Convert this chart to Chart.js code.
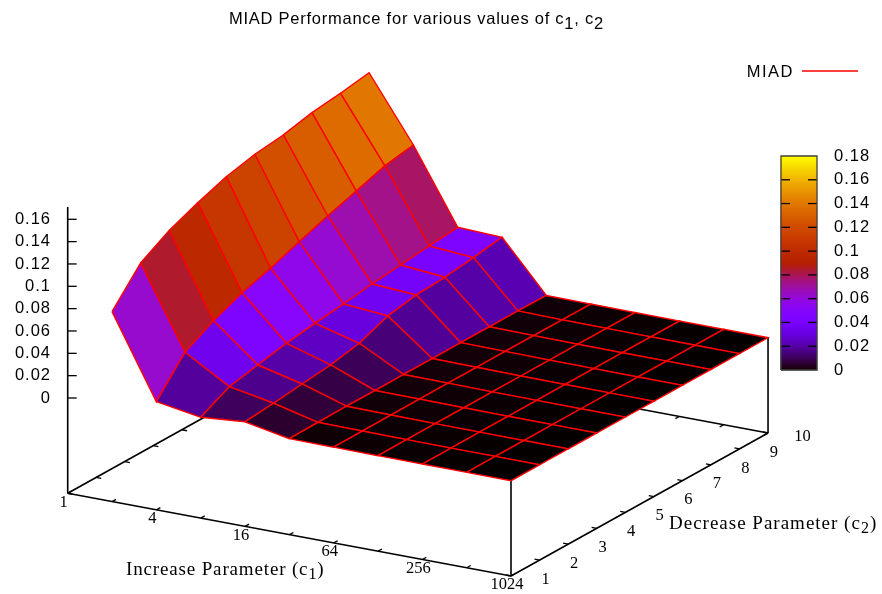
<!DOCTYPE html>
<html>
<head>
<meta charset="utf-8">
<title>MIAD Performance</title>
<script src="https://cdn.jsdelivr.net/npm/chart.js@4"></script>
<style>
html, body { margin: 0; padding: 0; background: #fff; }
canvas { display: block; filter: blur(0.45px); }
</style>
</head>
<body>
<canvas id="canvas" width="882" height="594"></canvas>
<script>
var increaseParam = [2, 4, 8, 16, 32, 64, 128, 256, 512, 1024];
var decreaseParam = [1, 2, 3, 4, 5, 6, 7, 8, 9, 10];

/* MIAD values, one row per c1, one column per c2 */
var perfC1_2 = [0.0847, 0.114, 0.129, 0.1396, 0.1486, 0.1545, 0.1576, 0.1633, 0.1664, 0.1706];
var perfC1_4 = [0.0115, 0.0415, 0.0555, 0.0664, 0.074, 0.0836, 0.0924, 0.1005, 0.1088, 0.1133];
var perfC1_8 = [0.005, 0.0181, 0.0233, 0.0285, 0.0321, 0.0352, 0.0389, 0.0417, 0.0445, 0.047];
var perfC1_16 = [0.0083, 0.0107, 0.0137, 0.0165, 0.0217, 0.032, 0.0365, 0.0381, 0.0415, 0.0455];
var perfC1_32 = [0.0006, 0.001, 0.0012, 0.001, 0.0012, 0.0012, 0.0012, 0.0012, 0.0012, 0.0008];
var perfC1_64 = [0.0004, 0.0006, 0.0007, 0.0008, 0.0008, 0.0008, 0.0008, 0.0007, 0.0006, 0.0005];
var perfC1_128 = [0.0002, 0.0003, 0.0004, 0.0004, 0.0004, 0.0004, 0.0004, 0.0004, 0.0003, 0.0003];
var perfC1_256 = [0.0001, 0.0001, 0.0002, 0.0002, 0.0002, 0.0002, 0.0002, 0.0002, 0.0002, 0.0001];
var perfC1_512 = [0.0001, 0.0001, 0.0001, 0.0001, 0.0001, 0.0001, 0.0001, 0.0001, 0.0001, 0.0001];
var perfC1_1024 = [0, 0, 0, 0, 0, 0, 0, 0, 0, 0];
var perfRows = [perfC1_2, perfC1_4, perfC1_8, perfC1_16, perfC1_32, perfC1_64, perfC1_128, perfC1_256, perfC1_512, perfC1_1024];

var c1TickLabels = ["1", "4", "16", "64", "256", "1024"];
var c1TickValues = [1, 4, 16, 64, 256, 1024];
var c1MinorTicks = [1, 2, 4, 8, 16, 32, 64, 128, 256, 512, 1024];
var c2TickValues = [1, 2, 3, 4, 5, 6, 7, 8, 9, 10];
var zTicks = [0, 0.02, 0.04, 0.06, 0.08, 0.1, 0.12, 0.14, 0.16];
var zTickLabels = ["0", "0.02", "0.04", "0.06", "0.08", "0.1", "0.12", "0.14", "0.16"];
var cbTicks = [0, 0.02, 0.04, 0.06, 0.08, 0.1, 0.12, 0.14, 0.16, 0.18];
var cbTickLabels = ["0", "0.02", "0.04", "0.06", "0.08", "0.1", "0.12", "0.14", "0.16", "0.18"];

var zMax = 0.18;

/* view of the 3d box, in pixels of the hidden x/y scales */
function project(c1, c2, z) {
    var c = Math.log2(c1);
    var j = c2 - 1;
    return {
        x: 67.7 + 44.33 * c + 28.56 * j,
        y: 398 + 8.27 * c - 15.89 * j - 1117 * z
    };
}

function floorPoint(c1, c2) {
    var p = project(c1, c2, 0);
    p.y += 95.3;
    return p;
}

/* gnuplot default pm3d palette (rgbformulae 7,5,15) */
function palette(v) {
    var g = Math.max(0, Math.min(1, v / zMax));
    var r = Math.sqrt(g);
    var gr = g * g * g;
    var b = Math.max(0, Math.sin(2 * Math.PI * g));
    return "rgb(" + Math.round(r * 255) + "," + Math.round(gr * 255) + "," + Math.round(b * 255) + ")";
}

var datasets = [];

function addLine(a, b, color, width) {
    datasets.push({
        data: [a, b],
        borderColor: color,
        borderWidth: width,
        pointRadius: 0,
        fill: false,
        tension: 0
    });
}

function addPoly(pts, fillColor, lineColor, width) {
    datasets.push({
        data: pts,
        backgroundColor: fillColor,
        borderColor: lineColor,
        borderWidth: width,
        pointRadius: 0,
        fill: "shape",
        tension: 0
    });
}

/* box floor and verticals */
addLine(floorPoint(1, 1), floorPoint(1024, 1), "#000", 1.6);
addLine(floorPoint(1024, 1), floorPoint(1024, 10), "#000", 1.6);
addLine(floorPoint(1, 1), floorPoint(1, 10), "#000", 1.6);
addLine(floorPoint(1, 10), floorPoint(1024, 10), "#000", 1.6);
addLine(floorPoint(1024, 1), project(1024, 1, 0), "#000", 1.6);
addLine(floorPoint(1024, 10), project(1024, 10, 0), "#000", 1.6);
addLine(floorPoint(1, 1), { x: floorPoint(1, 1).x, y: 207 }, "#000", 1.6);

for (var i = 0; i < zTicks.length; i++) {
    var t = project(1, 1, zTicks[i]);
    addLine(t, { x: t.x + 9, y: t.y }, "#000", 1.3);
}

for (var i = 0; i < c1MinorTicks.length; i++) {
    var p = floorPoint(c1MinorTicks[i], 1);
    addLine(p, { x: p.x + 4, y: p.y - 2.2 }, "#000", 1.3);
    var q = floorPoint(c1MinorTicks[i], 10);
    addLine(q, { x: q.x - 4, y: q.y + 2.2 }, "#000", 1.3);
}
for (var i = 0; i < c2TickValues.length; i++) {
    var p = floorPoint(1, c2TickValues[i]);
    addLine(p, { x: p.x + 5, y: p.y + 1 }, "#000", 1.3);
    var q = floorPoint(1024, c2TickValues[i]);
    addLine(q, { x: q.x - 5, y: q.y - 1 }, "#000", 1.3);
}

/* surface cells, far ones first */
for (var a = 0; a < increaseParam.length - 1; a++) {
    for (var b = decreaseParam.length - 2; b >= 0; b--) {
        var z1 = perfRows[a][b], z2 = perfRows[a + 1][b], z3 = perfRows[a + 1][b + 1], z4 = perfRows[a][b + 1];
        var pts = [
            project(increaseParam[a], decreaseParam[b], z1),
            project(increaseParam[a + 1], decreaseParam[b], z2),
            project(increaseParam[a + 1], decreaseParam[b + 1], z3),
            project(increaseParam[a], decreaseParam[b + 1], z4),
            project(increaseParam[a], decreaseParam[b], z1)
        ];
        addPoly(pts, palette((z1 + z2 + z3 + z4) / 4), "#ff0000", 1.4);
    }
}

/* colour box */
function cbY(v) {
    return 370 - v / zMax * 214;
}
for (var k = 0; k < 107; k++) {
    var v0 = zMax * k / 107, v1 = zMax * (k + 1) / 107;
    var col = palette((v0 + v1) / 2);
    addPoly([{ x: 781, y: cbY(v0) }, { x: 817, y: cbY(v0) }, { x: 817, y: cbY(v1) }, { x: 781, y: cbY(v1) }, { x: 781, y: cbY(v0) }], col, col, 0.6);
}
for (var i = 1; i < cbTicks.length - 1; i++) {
    addLine({ x: 781, y: cbY(cbTicks[i]) }, { x: 790, y: cbY(cbTicks[i]) }, "#000", 1.3);
    addLine({ x: 808, y: cbY(cbTicks[i]) }, { x: 817, y: cbY(cbTicks[i]) }, "#000", 1.3);
}
addPoly([{ x: 781, y: 370 }, { x: 817, y: 370 }, { x: 817, y: 156 }, { x: 781, y: 156 }, { x: 781, y: 370 }], "rgba(0,0,0,0)", "#444", 1.3);

/* legend sample */
addLine({ x: 802, y: 71 }, { x: 858, y: 71 }, "#ff0000", 1.4);

/* chart.js paints the first dataset on top */
datasets.reverse();

function drawText(ctx, str, x, y, font, align, spacing) {
    ctx.font = font;
    ctx.letterSpacing = (spacing || 0) + "px";
    ctx.textAlign = align || "center";
    ctx.textBaseline = "middle";
    ctx.fillStyle = "#000";
    ctx.fillText(str, x, y);
}

/* text followed by a lowered index, starting at x */
function drawWithSub(ctx, parts, x, y, font, subFont, spacing) {
    ctx.textBaseline = "middle";
    ctx.textAlign = "left";
    ctx.fillStyle = "#000";
    ctx.letterSpacing = spacing + "px";
    for (var i = 0; i < parts.length; i++) {
        var isSub = parts[i][1];
        ctx.font = isSub ? subFont : font;
        ctx.fillText(parts[i][0], x, isSub ? y + 5 : y);
        x += ctx.measureText(parts[i][0]).width;
    }
}

var textPlugin = {
    id: "gnuplotText",
    afterDraw: function (chart) {
        var ctx = chart.ctx;
        var sans = "16.5px 'Liberation Sans'";
        var serif = "16.5px 'Liberation Serif'";
        var axisFont = "19px 'Liberation Serif'";
        ctx.save();
        drawWithSub(ctx, [["MIAD Performance for various values of c", false], ["1", true], [", c", false], ["2", true]],
            229, 19, "16.5px 'Liberation Sans'", "16.5px 'Liberation Sans'", 0.75);
        drawText(ctx, "MIAD", 794, 72, sans, "right", 1.5);
        for (var i = 0; i < zTicks.length; i++) {
            drawText(ctx, zTickLabels[i], 51, project(1, 1, zTicks[i]).y, sans, "right", 1);
        }
        for (var i = 0; i < cbTicks.length; i++) {
            drawText(ctx, cbTickLabels[i], 834, cbY(cbTicks[i]), sans, "left", 1);
        }
        for (var i = 0; i < c1TickValues.length; i++) {
            var p = floorPoint(c1TickValues[i], 1);
            drawText(ctx, c1TickLabels[i], p.x - 4, p.y + 9, serif);
        }
        for (var i = 0; i < c2TickValues.length; i++) {
            var q = floorPoint(1024, c2TickValues[i]);
            drawText(ctx, String(c2TickValues[i]), q.x + 34.5, q.y + 3.5, serif);
        }
        drawWithSub(ctx, [["Increase Parameter (c", false], ["1", true], [")", false]], 126, 570, axisFont, "16px 'Liberation Serif'", 0.85);
        drawWithSub(ctx, [["Decrease Parameter (c", false], ["2", true], [")", false]], 669, 524, axisFont, "16px 'Liberation Serif'", 1);
        ctx.restore();
    }
};

var ctx = document.getElementById("canvas").getContext("2d");

var surface = new Chart(ctx, {
    type: "scatter",
    data: { datasets: datasets },
    options: {
        responsive: false,
        animation: false,
        showLine: true,
        layout: { padding: 0 },
        plugins: { legend: { display: false }, title: { display: false }, tooltip: { enabled: false } },
        scales: {
            x: { type: "linear", min: 0, max: 882, display: false },
            y: { type: "linear", min: 0, max: 594, reverse: true, display: false }
        }
    },
    plugins: [textPlugin]
});
</script>
</body>
</html>
